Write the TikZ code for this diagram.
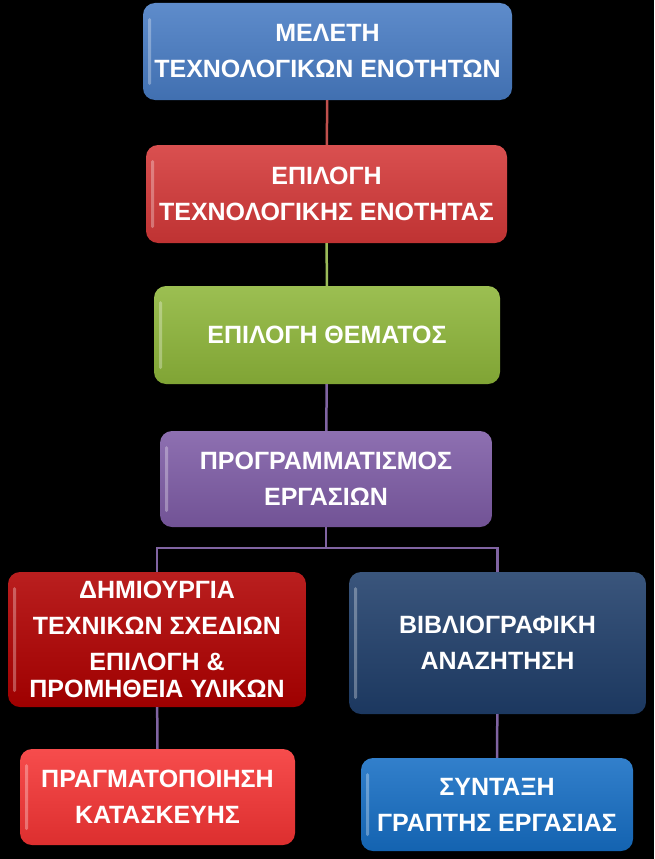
\documentclass[tikz,border=0pt]{standalone}
\usepackage{fontspec}
\setmainfont{Liberation Sans}
\usetikzlibrary{positioning}

\definecolor{blueA}{RGB}{72,124,196}
\definecolor{redA}{RGB}{212,56,56}
\definecolor{greenA}{RGB}{142,182,58}
\definecolor{purpleA}{RGB}{126,92,166}
\definecolor{darkredA}{RGB}{176,0,0}
\definecolor{navyA}{RGB}{31,62,106}
\definecolor{brightredA}{RGB}{245,52,52}
\definecolor{blueB}{RGB}{22,110,196}
\definecolor{lineRed}{RGB}{192,80,77}
\definecolor{lineGreen}{RGB}{155,187,89}
\definecolor{linePurple}{RGB}{128,100,162}

\tikzset{
	box/.style={rounded corners=12pt, align=center, text=white,
		font=\fontsize{25}{36}\selectfont\bfseries,
		top color=#1!88!white, bottom color=#1!90!black,
		path picture={\fill[white,opacity=0.3,rounded corners=1.5pt]
			([xshift=5pt,yshift=-15pt]path picture bounding box.north west) rectangle
			([xshift=8pt,yshift=15pt]path picture bounding box.south west);}},
	link/.style={line width=2.5pt}
}

\begin{document}
\begin{tikzpicture}[x=1pt,y=-1pt]
		
		\fill[black] (0,0) rectangle (654,859);
		\node[box=blueA, minimum width=369pt, minimum height=97pt] (meleti) at (327.5,51.5) {ΜΕΛΕΤΗ\\ΤΕΧΝΟΛΟΓΙΚΩΝ ΕΝΟΤΗΤΩΝ};
		\node[box=redA, minimum width=361pt, minimum height=98pt] (enotita) at (326.5,194) {ΕΠΙΛΟΓΗ\\ΤΕΧΝΟΛΟΓΙΚΗΣ ΕΝΟΤΗΤΑΣ};
		\node[box=greenA, minimum width=346pt, minimum height=98pt] (thema) at (327,335) {ΕΠΙΛΟΓΗ ΘΕΜΑΤΟΣ};
		\node[box=purpleA, minimum width=332pt, minimum height=96pt] (programma) at (326,479) {ΠΡΟΓΡΑΜΜΑΤΙΣΜΟΣ\\ΕΡΓΑΣΙΩΝ};
		\node[box=darkredA, minimum width=298pt, minimum height=135pt] (sxedia) at (157,639.5) {ΔΗΜΙΟΥΡΓΙΑ\\ΤΕΧΝΙΚΩΝ ΣΧΕΔΙΩΝ\\ΕΠΙΛΟΓΗ \&\\[-9pt]ΠΡΟΜΗΘΕΙΑ ΥΛΙΚΩΝ};
		\node[box=navyA, minimum width=297pt, minimum height=142pt] (biblio) at (497.5,643) {ΒΙΒΛΙΟΓΡΑΦΙΚΗ\\ΑΝΑΖΗΤΗΣΗ};
		\node[box=brightredA, minimum width=275pt, minimum height=96pt] (kataskeui) at (157.5,797) {ΠΡΑΓΜΑΤΟΠΟΙΗΣΗ\\ΚΑΤΑΣΚΕΥΗΣ};
		\node[box=blueB, minimum width=272pt, minimum height=93pt] (syntaxi) at (497,804.5) {ΣΥΝΤΑΞΗ\\ΓΡΑΠΤΗΣ ΕΡΓΑΣΙΑΣ};
		
		\coordinate (diakladosi) at (326,548);
		\draw[link,lineRed] (meleti) -- (enotita);
		\draw[link,lineGreen] (enotita) -- (thema);
		\draw[link,linePurple] (thema) -- (programma);
		\draw[link,linePurple] (programma) -- (diakladosi);
		\draw[link,linePurple] (diakladosi) -| (sxedia);
		\draw[link,linePurple] (diakladosi) -| (biblio);
		\draw[link,linePurple] (sxedia) -- (kataskeui);
		\draw[link,linePurple] (biblio) -- (syntaxi);
		\end{tikzpicture}
\end{document}
